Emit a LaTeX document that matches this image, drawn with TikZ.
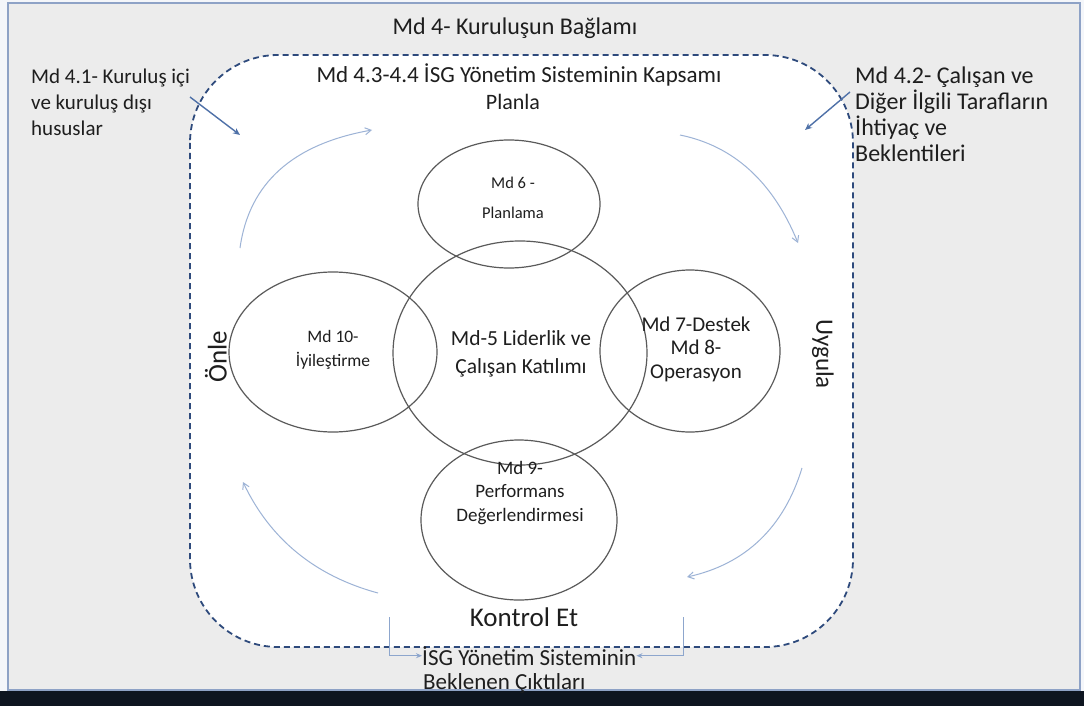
\documentclass[tikz,border=0pt]{standalone}
\usepackage{fontspec}
\setmainfont{Carlito}
\usetikzlibrary{arrows.meta,shapes.geometric}
\definecolor{bgout}{HTML}{F4F6FA}
\definecolor{bggrey}{HTML}{ECECEC}
\definecolor{frameblue}{HTML}{8EA2C6}
\definecolor{band}{HTML}{0E1520}
\definecolor{dashnavy}{HTML}{2E4A7C}
\definecolor{circgrey}{HTML}{5A5A5A}
\definecolor{cycblue}{HTML}{9DB3D6}
\definecolor{arrblue}{HTML}{4F71A8}
\definecolor{txt}{HTML}{1E1E1E}
\tikzset{
  circ/.style={ellipse, draw=circgrey, line width=1.2pt, inner sep=0pt, outer sep=0pt},
  lbl/.style={text=txt, inner sep=0pt},
  lblL/.style={lbl, align=left, anchor=north west},
  ctext/.style={text=txt, align=center, inner sep=0pt},
  cyc/.style={draw=cycblue, line width=1pt, -{Straight Barb[length=6pt,width=7pt]}},
  inarr/.style={draw=arrblue, line width=1.4pt, -{Stealth[length=7pt,width=6pt]}},
  outarr/.style={draw=cycblue!80!arrblue, line width=1pt, -{Stealth[length=6pt,width=5pt]}},
  scope/.style={draw=dashnavy, line width=1.8pt, dash pattern=on 6pt off 4pt, fill=white, rounded corners=88pt}
}
\begin{document}
\begin{tikzpicture}[x=1pt,y=-1pt]
\useasboundingbox (0,0) rectangle (1084,706);
\fill[bgout] (0,0) rectangle (1084,706);
\draw[fill=bggrey, draw=frameblue, line width=1.5pt] (8,3) rectangle (1080,690);
\fill[band] (0,691) rectangle (1084,706);

% scope rounded rectangle
\draw[scope] (190,55) rectangle (853,647);

% titles
\node[lbl, font=\fontsize{24}{26}\selectfont] (t4) at (515,28) {Md 4- Kuruluşun Bağlamı};
\node[lbl, font=\fontsize{23}{26}\selectfont] (t43) at (519,75) {Md 4.3-4.4 İSG Yönetim Sisteminin Kapsamı};
\node[lbl, font=\fontsize{22}{26}\selectfont] (plan) at (513,102) {Planla};
\node[lbl, font=\fontsize{27}{30}\selectfont] (kontrol) at (524,617) {Kontrol Et};
\node[lbl, font=\fontsize{27}{30}\selectfont, rotate=90] (onle) at (216,357) {Önle};
\node[lbl, font=\fontsize{25}{30}\selectfont, rotate=-90] (uygula) at (823,354) {Uygula};

\node[lblL, font=\fontsize{21}{26}\selectfont] (t41) at (31,69) {Md 4.1- Kuruluş içi\\ve kuruluş dışı\\hususlar};
\node[lblL, font=\fontsize{24}{26}\selectfont] (t42) at (855,67) {Md 4.2- Çalışan ve\\Diğer İlgili Tarafların\\İhtiyaç ve\\Beklentileri};

% circles
\node[circ, minimum width=182pt, minimum height=128pt] (c6) at (509,204) {};
\node[circ, minimum width=254pt, minimum height=224pt] (c5) at (520,353) {};
\node[circ, minimum width=208pt, minimum height=160pt] (c10) at (333,352) {};
\node[circ, minimum width=180pt, minimum height=162pt] (c7) at (690,351) {};
\node[circ, minimum width=196pt, minimum height=160pt] (c9) at (519,520) {};

% circle texts
\node[ctext, font=\fontsize{16.5}{30}\selectfont] (x6) at (513,198) {Md 6 -\\Planlama};
\node[ctext, font=\fontsize{17.5}{24}\selectfont] (x10) at (333,350) {Md 10-\\İyileştirme};
\node[ctext, font=\fontsize{21.5}{28}\selectfont] (x5) at (521,354) {Md-5 Liderlik ve\\Çalışan Katılımı};
\node[ctext, font=\fontsize{21}{23.5}\selectfont] (x7) at (696,349) {Md 7-Destek\\Md 8-\\Operasyon};
\node[ctext, font=\fontsize{19}{23.5}\selectfont] (x9) at (520,493) {Md 9-\\Performans\\Değerlendirmesi};

% inward arrows
\coordinate (a41s) at (190,97);
\coordinate (a41e) at (240,135);
\coordinate (a42s) at (850,92);
\coordinate (a42e) at (805,130);
\draw[inarr] (a41s) -- (a41e);
\draw[inarr] (a42s) -- (a42e);

% cycle arrows
\coordinate (p1s) at (240,248); \coordinate (p1a) at (249,183); \coordinate (p1b) at (293,144); \coordinate (p1e) at (372,130);
\coordinate (p2s) at (680,135); \coordinate (p2a) at (734,146); \coordinate (p2b) at (773,182); \coordinate (p2e) at (798,243);
\coordinate (p3s) at (802,468); \coordinate (p3a) at (784,527); \coordinate (p3b) at (746,564); \coordinate (p3e) at (687,577);
\coordinate (p4s) at (378,593); \coordinate (p4a) at (315,576); \coordinate (p4b) at (270,539); \coordinate (p4e) at (243,482);
\draw[cyc] (p1s) .. controls (p1a) and (p1b) .. (p1e);
\draw[cyc] (p2s) .. controls (p2a) and (p2b) .. (p2e);
\draw[cyc] (p3s) .. controls (p3a) and (p3b) .. (p3e);
\draw[cyc] (p4s) .. controls (p4a) and (p4b) .. (p4e);

% outputs
\node[lbl, anchor=base west, font=\fontsize{23}{26}\selectfont] (out1) at (422,665) {İSG Yönetim Sisteminin};
\node[lbl, anchor=base west, font=\fontsize{23}{26}\selectfont] (out2) at (423,689) {Beklenen Çıktıları};
\coordinate (o1) at (389,617);
\coordinate (o2) at (683,617);
\draw[outarr] (o1) |- (out1.west);
\draw[outarr] (o2) |- (out1.east);
\end{tikzpicture}
\end{document}
